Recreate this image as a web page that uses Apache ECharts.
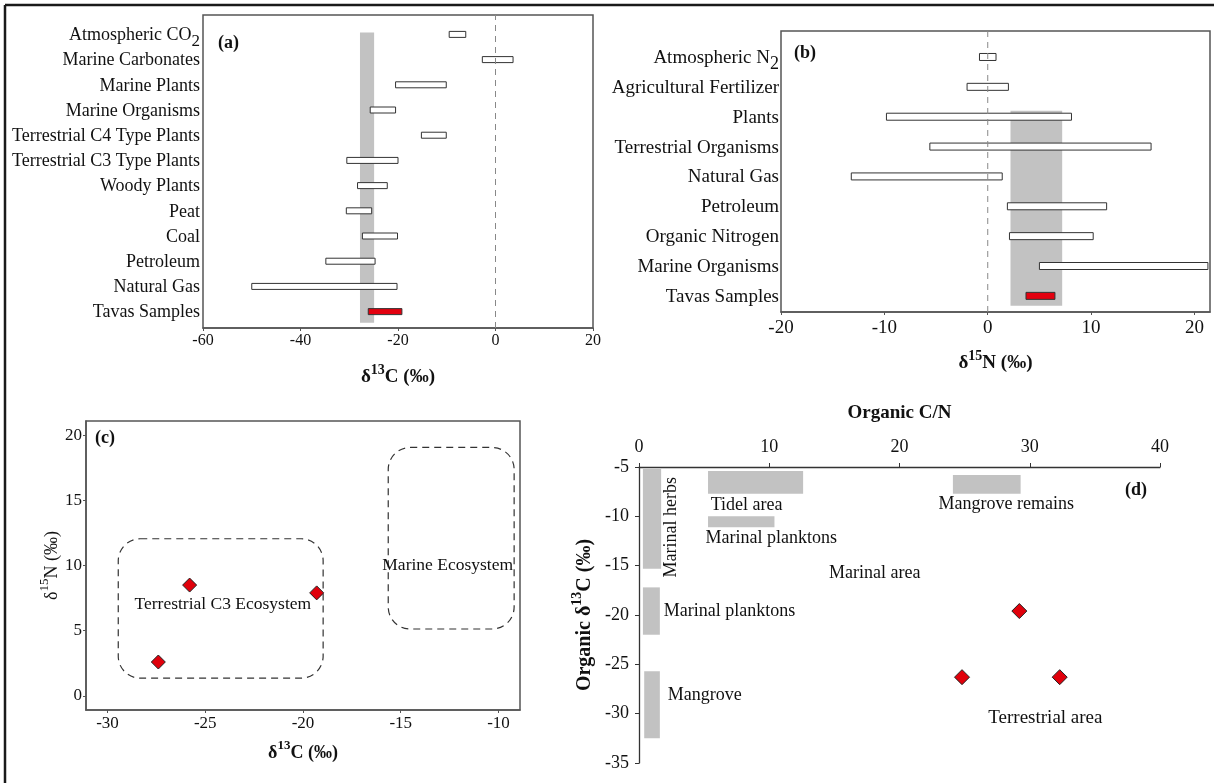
<!DOCTYPE html>
<html>
<head>
<meta charset="utf-8">
<script src="https://cdn.jsdelivr.net/npm/echarts@6/dist/echarts.min.js"></script>
<style>
html, body { margin: 0; padding: 0; background: #fff; }
#chart { width: 1214px; height: 783px; }
</style>
</head>
<body>
<div id="chart"></div>
<script>
var serif = '"Liberation Serif", "Times New Roman", serif';
var ink = '#111';
var boxColor = '#555';

// (a) δ13C source ranges, bottom row first
var catsC = ['Tavas Samples', 'Natural Gas', 'Petroleum', 'Coal', 'Peat', 'Woody Plants',
    'Terrestrial C3 Type Plants', 'Terrestrial C4 Type Plants', 'Marine Organisms',
    'Marine Plants', 'Marine Carbonates', 'Atmospheric CO2'];
var lowC  = [-26.1, -50, -34.8, -27.3, -30.6, -28.3, -30.5, -15.2, -25.7, -20.5, -2.7, -9.5];
var highC = [-19.2, -20.2, -24.7, -20.1, -25.4, -22.2, -20, -10.1, -20.5, -10.1, 3.6, -6.1];
var bandC = [-27.8, -24.9, -0.44, 11.08];   // x0, x1, row0, row1
var rowsC = [-0.65, 11.77];

// (b) δ15N source ranges, bottom row first
var catsN = ['Tavas Samples', 'Marine Organisms', 'Organic Nitrogen', 'Petroleum', 'Natural Gas',
    'Terrestrial Organisms', 'Plants', 'Agricultural Fertilizer', 'Atmospheric N2'];
var lowN  = [3.7, 5, 2.1, 1.9, -13.2, -5.6, -9.8, -2, -0.8];
var highN = [6.5, 21.3, 10.2, 11.5, 1.4, 15.8, 8.1, 2, 0.8];
var bandN = [2.2, 7.2, -0.33, 6.2];
var rowsN = [-0.54, 8.87];

// (c) δ13C vs δ15N
var sampC13 = [-27.4, -25.8, -19.3];
var sampN15 = [2.6, 8.5, 7.9];
var zoneNames = ['Terrestrial C3 Ecosystem', 'Marine Ecosystem'];
var zoneX0 = [-29.45, -15.64];
var zoneX1 = [-18.97, -9.2];
var zoneY0 = [1.36, 5.13];
var zoneY1 = [12.05, 19.05];
var zoneLabelX = [-24.1, -12.6];
var zoneLabelY = [7.0, 10.0];
var ticksCx = [-30, -25, -20, -15, -10];
var ticksCy = [0, 5, 10, 15, 20];

// (d) C/N vs δ13C
var fieldNames = ['Marinal herbs', 'Marinal planktons', 'Mangrove', 'Tidel area', 'Marinal planktons', 'Mangrove remains'];
var fieldX0 = [0.3, 0.3, 0.4, 5.3, 5.3, 24.1];
var fieldX1 = [1.7, 1.6, 1.6, 12.6, 10.4, 29.3];
var fieldY0 = [-5.2, -17.2, -25.7, -5.4, -10, -5.8];
var fieldY1 = [-15.3, -22, -32.5, -7.7, -11.1, -7.7];
var sampCN = [29.2, 24.8, 32.3];
var sampD13 = [-19.6, -26.3, -26.3];
var noteText = ['Marinal herbs', 'Tidel area', 'Mangrove remains', 'Marinal planktons', 'Marinal area',
    'Marinal planktons', 'Mangrove', 'Terrestrial area'];
var noteX = [2.5, 5.5, 28.2, 5.1, 18.1, 1.9, 2.2, 31.2];
var noteY = [-11.1, -8.9, -8.8, -12.2, -15.8, -19.6, -28.1, -30.4];
var noteAlign = ['center', 'left', 'center', 'left', 'center', 'left', 'left', 'center'];

var myChart = echarts.init(document.getElementById('chart'));

function rowLabel(name) {
    var m = name.match(/^(.*(?:CO|N))2$/);
    return m ? '{t|' + m[1] + '}{sub|2}' : '{t|' + name + '}';
}

function deltaName(sup, rest, bold, size) {
    return {
        name: '{b|δ}{s|' + sup + '}{b|' + rest + '}',
        rich: {
            b: { fontFamily: serif, fontSize: size, fontWeight: bold ? 'bold' : 'normal', color: ink, lineHeight: size + 5, verticalAlign: 'bottom' },
            s: { fontFamily: serif, fontSize: Math.round(size * 0.72), fontWeight: bold ? 'bold' : 'normal', color: ink, lineHeight: 12, verticalAlign: 'top' }
        }
    };
}

function rangeBars(h) {
    return function (params, api) {
        var a = api.coord([api.value(1), api.value(0)]);
        var b = api.coord([api.value(2), api.value(0)]);
        return {
            type: 'rect',
            shape: { x: a[0], y: a[1] - h / 2, width: b[0] - a[0], height: h },
            style: { fill: params.dataIndex === 0 ? '#e3000f' : '#fff', stroke: '#333', lineWidth: 1 }
        };
    };
}

function bandRect(params, api) {
    var a = api.coord([api.value(0), api.value(2)]);
    var b = api.coord([api.value(1), api.value(3)]);
    return {
        type: 'rect',
        shape: { x: Math.min(a[0], b[0]), y: Math.min(a[1], b[1]), width: Math.abs(b[0] - a[0]), height: Math.abs(b[1] - a[1]) },
        style: { fill: '#c2c2c2' }
    };
}

function rowAxis(gi, cats, rows, size, margin) {
    return {
        type: 'value', gridIndex: gi, min: rows[0], max: rows[1],
        axisLine: { show: false, onZero: false }, axisTick: { show: false }, splitLine: { show: false },
        axisLabel: {
            customValues: cats.map(function (c, i) { return i; }),
            formatter: function (v) { return rowLabel(cats[Math.round(v)]); },
            margin: margin, showMinLabel: true, showMaxLabel: true, hideOverlap: false,
            rich: {
                t: { fontFamily: serif, fontSize: size, color: ink, lineHeight: size - 2, verticalAlign: 'top' },
                sub: { fontFamily: serif, fontSize: size - 1, color: ink, lineHeight: size - 2, padding: [7, 0, 0, 0], verticalAlign: 'top' }
            }
        }
    };
}

var nameA = deltaName('13', 'C (‰)', true, 19);
var nameB = deltaName('15', 'N (‰)', true, 19);
var nameCx = deltaName('13', 'C (‰)', true, 18);
var nameCy = deltaName('15', 'N (‰)', false, 18);
var nameDy = {
    name: '{b|Organic δ}{s|13}{b|C (‰)}',
    rich: deltaName('13', '', true, 20).rich
};

var tickStyle = { show: true, length: 3, lineStyle: { color: boxColor } };
var lineStyleBox = { color: boxColor, width: 1.5 };

option = {
    animation: false,
    backgroundColor: '#fff',
    grid: [
        { left: 203, top: 15, width: 390, height: 313, show: true, borderColor: boxColor, borderWidth: 1.5, outerBoundsMode: 'none' },
        { left: 781, top: 31, width: 429, height: 281, show: true, borderColor: boxColor, borderWidth: 1.5, outerBoundsMode: 'none' },
        { left: 86, top: 421, width: 434, height: 289, show: true, borderColor: boxColor, borderWidth: 1.5, outerBoundsMode: 'none' },
        { left: 639, top: 467, width: 521, height: 296, outerBoundsMode: 'none' }
    ],
    xAxis: [
        {
            type: 'value', gridIndex: 0, min: -60, max: 20, interval: 20,
            axisLine: { onZero: false, lineStyle: lineStyleBox }, axisTick: tickStyle, splitLine: { show: false },
            axisLabel: { fontFamily: serif, fontSize: 16, color: ink, margin: 5 },
            name: nameA.name, nameLocation: 'middle', nameGap: 35, nameTextStyle: { rich: nameA.rich }
        },
        {
            type: 'value', gridIndex: 1, min: -20, max: 21.5, interval: 10,
            axisLine: { onZero: false, lineStyle: lineStyleBox }, axisTick: tickStyle, splitLine: { show: false },
            axisLabel: { fontFamily: serif, fontSize: 19, color: ink, margin: 7, showMaxLabel: false },
            name: nameB.name, nameLocation: 'middle', nameGap: 37, nameTextStyle: { rich: nameB.rich }
        },
        {
            type: 'value', gridIndex: 2, min: -31.1, max: -8.9,
            axisLine: { onZero: false, lineStyle: lineStyleBox },
            axisTick: { show: true, length: 3, customValues: ticksCx, lineStyle: { color: boxColor } },
            splitLine: { show: false },
            axisLabel: { customValues: ticksCx, fontFamily: serif, fontSize: 17, color: ink, margin: 5 },
            name: nameCx.name, nameLocation: 'middle', nameGap: 29, nameTextStyle: { rich: nameCx.rich }
        },
        {
            type: 'value', gridIndex: 3, min: 0, max: 40, interval: 10, position: 'top',
            axisLine: { onZero: false, lineStyle: { color: '#333', width: 1.3 } },
            axisTick: { show: true, length: 4, lineStyle: { color: '#333' } },
            splitLine: { show: false },
            axisLabel: { fontFamily: serif, fontSize: 18, color: ink, margin: 11 },
            name: 'Organic C/N', nameLocation: 'middle', nameGap: 44,
            nameTextStyle: { fontFamily: serif, fontSize: 19, fontWeight: 'bold', color: ink }
        }
    ],
    yAxis: [
        rowAxis(0, catsC, rowsC, 18, 3),
        rowAxis(1, catsN, rowsN, 19, 2),
        {
            type: 'value', gridIndex: 2, min: -1.08, max: 21.08,
            axisLine: { onZero: false, lineStyle: lineStyleBox },
            axisTick: { show: true, length: 3, customValues: ticksCy, lineStyle: { color: boxColor } },
            splitLine: { show: false },
            axisLabel: { customValues: ticksCy, fontFamily: serif, fontSize: 17, color: ink, margin: 4 },
            name: nameCy.name, nameLocation: 'middle', nameGap: 20, nameTextStyle: { rich: nameCy.rich }
        },
        {
            type: 'value', gridIndex: 3, min: -35, max: -5, interval: 5,
            axisLine: { onZero: false, lineStyle: { color: '#333', width: 1.3 } },
            axisTick: { show: true, length: 4, lineStyle: { color: '#333' } },
            splitLine: { show: false },
            axisLabel: { fontFamily: serif, fontSize: 18, color: ink, margin: 10 },
            name: nameDy.name, nameLocation: 'middle', nameGap: 44, nameTextStyle: { rich: nameDy.rich }
        }
    ],
    series: [
        // (a)
        { type: 'custom', xAxisIndex: 0, yAxisIndex: 0, renderItem: bandRect, data: [bandC], silent: true },
        {
            type: 'line', xAxisIndex: 0, yAxisIndex: 0, symbol: 'none', silent: true,
            data: [[0, rowsC[0]], [0, rowsC[1]]], lineStyle: { color: '#888', width: 1, type: [6, 5] }
        },
        {
            type: 'custom', xAxisIndex: 0, yAxisIndex: 0, renderItem: rangeBars(6), silent: true,
            encode: { x: [1, 2], y: 0 },
            data: catsC.map(function (c, i) { return [i, lowC[i], highC[i]]; })
        },
        // (b)
        { type: 'custom', xAxisIndex: 1, yAxisIndex: 1, renderItem: bandRect, data: [bandN], silent: true },
        {
            type: 'line', xAxisIndex: 1, yAxisIndex: 1, symbol: 'none', silent: true,
            data: [[0, rowsN[0]], [0, rowsN[1]]], lineStyle: { color: '#888', width: 1, type: [6, 5] }
        },
        {
            type: 'custom', xAxisIndex: 1, yAxisIndex: 1, renderItem: rangeBars(7), silent: true,
            encode: { x: [1, 2], y: 0 },
            data: catsN.map(function (c, i) { return [i, lowN[i], highN[i]]; })
        },
        // (c)
        {
            type: 'custom', xAxisIndex: 2, yAxisIndex: 2, silent: true,
            data: zoneNames.map(function (n, i) { return [zoneX0[i], zoneX1[i], zoneY0[i], zoneY1[i], zoneLabelX[i], zoneLabelY[i]]; }),
            renderItem: function (params, api) {
                var a = api.coord([api.value(0), api.value(3)]);
                var b = api.coord([api.value(1), api.value(2)]);
                var t = api.coord([api.value(4), api.value(5)]);
                return {
                    type: 'group',
                    children: [
                        {
                            type: 'rect',
                            shape: { x: a[0], y: a[1], width: b[0] - a[0], height: b[1] - a[1], r: 22 },
                            style: { fill: 'none', stroke: '#333', lineWidth: 1.2, lineDash: [7, 5] }
                        },
                        {
                            type: 'text', x: t[0], y: t[1],
                            style: { text: zoneNames[params.dataIndex], fontFamily: serif, fontSize: 17.5, fill: ink, align: 'center', verticalAlign: 'middle' }
                        }
                    ]
                };
            }
        },
        {
            type: 'scatter', xAxisIndex: 2, yAxisIndex: 2, symbol: 'diamond', symbolSize: 14, silent: true,
            itemStyle: { color: '#e0000b', borderColor: '#222', borderWidth: 1, opacity: 1 },
            data: sampC13.map(function (x, i) { return [x, sampN15[i]]; })
        },
        // (d)
        {
            type: 'custom', xAxisIndex: 3, yAxisIndex: 3, silent: true,
            data: fieldNames.map(function (n, i) { return [fieldX0[i], fieldX1[i], fieldY0[i], fieldY1[i]]; }),
            renderItem: bandRect
        },
        {
            type: 'custom', xAxisIndex: 3, yAxisIndex: 3, silent: true,
            data: noteText.map(function (n, i) { return [noteX[i], noteY[i]]; }),
            renderItem: function (params, api) {
                var p = api.coord([api.value(0), api.value(1)]);
                var i = params.dataIndex;
                return {
                    type: 'text', x: p[0], y: p[1], rotation: i === 0 ? Math.PI / 2 : 0,
                    style: {
                        text: noteText[i], fontFamily: serif, fontSize: i === 7 ? 19 : 18, fill: ink,
                        align: noteAlign[i], verticalAlign: 'middle'
                    }
                };
            }
        },
        {
            type: 'scatter', xAxisIndex: 3, yAxisIndex: 3, symbol: 'diamond', symbolSize: 15, silent: true,
            itemStyle: { color: '#e0000b', borderColor: '#222', borderWidth: 1, opacity: 1 },
            data: sampCN.map(function (x, i) { return [x, sampD13[i]]; })
        }
    ],
    graphic: [
        { type: 'line', shape: { x1: 5, y1: 5, x2: 1214, y2: 5 }, style: { stroke: '#1a1a1a', lineWidth: 2.5 } },
        { type: 'line', shape: { x1: 5, y1: 5, x2: 5, y2: 783 }, style: { stroke: '#1a1a1a', lineWidth: 2.5 } },
        { type: 'text', left: 218, top: 34, style: { text: '(a)', fontFamily: serif, fontSize: 18, fontWeight: 'bold', fill: ink } },
        { type: 'text', left: 794, top: 44, style: { text: '(b)', fontFamily: serif, fontSize: 18, fontWeight: 'bold', fill: ink } },
        { type: 'text', left: 95, top: 429, style: { text: '(c)', fontFamily: serif, fontSize: 18, fontWeight: 'bold', fill: ink } },
        { type: 'text', left: 1125, top: 481, style: { text: '(d)', fontFamily: serif, fontSize: 18, fontWeight: 'bold', fill: ink } }
    ]
};
myChart.setOption(option);
</script>
</body>
</html>
